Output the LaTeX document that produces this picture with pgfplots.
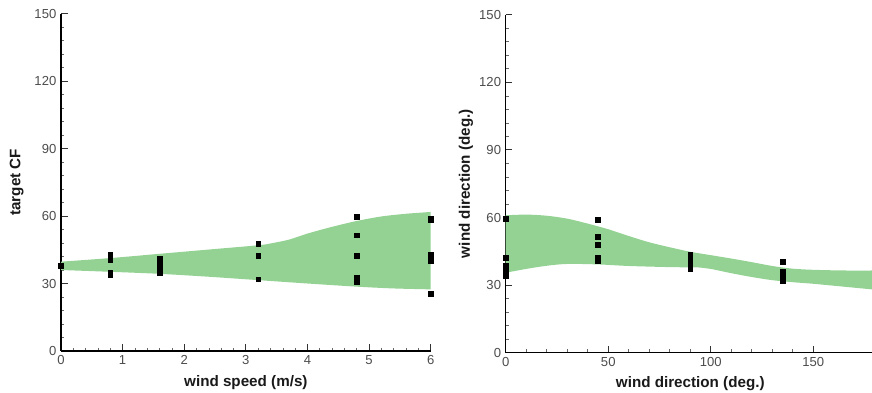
\documentclass[border=0pt]{standalone}
\usepackage{fontspec}
\setmainfont{Liberation Sans}
\usepackage{pgfplots}
\pgfplotsset{compat=1.18}
\usepgfplotslibrary{fillbetween}
\definecolor{bandgreen}{RGB}{148,210,148}
\pgfplotsset{
  common/.style={
    scale only axis,
    axis x line*=bottom, axis y line*=left,
    axis line style={-, black, line width=0.9pt},
    tick align=inside,
    major tick length=5pt, minor tick length=2.6pt,
    every tick/.style={black!80, line width=0.7pt},
    every minor tick/.style={black!60, line width=0.5pt},
    ymin=0, ymax=150, ytick={0,30,60,90,120,150},
    minor y tick num=4, minor x tick num=4,
    /pgf/number format/assume math mode=true,
    tick label style={font=\fontsize{9.8}{10}\selectfont, text=black!70},
    label style={font=\bfseries\fontsize{11.4}{12}\selectfont, text=black!90},
    xlabel style={at={(axis description cs:0.5,-0.104)}, anchor=base},
    clip=false,
  }
}
\begin{document}
\begin{tikzpicture}
\begin{axis}[common, at={(45.75pt,31.5pt)}, anchor=south west,
  width=277.3pt, height=253.1pt,
  xmin=0, xmax=6, xtick={0,...,6},
  ylabel style={at={(axis description cs:-0.120,0.5)}, anchor=center, rotate=0},
  xlabel={wind speed (m/s)}, ylabel={target CF}]
\addplot[name path=up, draw=none, smooth] coordinates {
(0,39.7) (0.8,41.3) (1.6,43.2) (2.4,45.1) (3.2,47) (3.4,47.8) (3.7,49.5) (4.0,52.2) (4.4,55.2) (4.8,57.8) (5.2,59.8) (5.6,61) (6,61.8)};
\addplot[name path=lo, draw=none, smooth] coordinates {
(0,36) (0.8,35.2) (1.6,34.3) (2.4,33) (3.2,31.5) (4,30) (4.8,28.6) (5.4,27.8) (6,27.4)};
\addplot[bandgreen, draw=none] fill between[of=up and lo];
\addplot[only marks, mark=square*, mark size=1.8pt, black] coordinates {
(0,38)
(0.8,43) (0.8,40.4) (0.8,35) (0.8,34)
(1.6,41.2) (1.6,38.8) (1.6,37.6) (1.6,36.1) (1.6,34.6)
(3.2,47.6) (3.2,42.4) (3.2,31.9)
(4.8,59.7) (4.8,51.4) (4.8,42.4) (4.8,32.4) (4.8,30.9)
(6,59) (6,58.5) (6,43) (6,42) (6,41) (6,40) (6,25.6)};
\end{axis}
\begin{axis}[common, at={(379.3pt,30.2pt)}, anchor=south west,
  width=276.8pt, height=253.5pt,
  xmin=0, xmax=180, xtick={0,50,100,150},
  ylabel style={at={(axis description cs:-0.108,0.5)}, anchor=center, rotate=0},
  xlabel={wind direction (deg.)}, ylabel={wind direction (deg.)}]
\addplot[name path=up, draw=none, smooth] coordinates {
(0,61) (10,61.3) (20,60.8) (30,59.5) (40,57.3) (50,54.8) (60,51.8) (70,49) (80,46.8) (90,44.8) (100,43.3) (110,41.8) (120,40.2) (130,38.5) (140,37.3) (150,36.8) (165,36.5) (180,36.5)};
\addplot[name path=lo, draw=none, smooth] coordinates {
(0,35.5) (10,37.2) (20,38.6) (30,39.4) (45,39.2) (60,38.5) (80,38) (95,37.8) (100,37.2) (110,35.3) (120,33.6) (130,32.2) (140,31.3) (150,30.6) (165,29.3) (180,28)};
\addplot[bandgreen, draw=none] fill between[of=up and lo];
\addplot[only marks, mark=square*, mark size=1.8pt, black] coordinates {
(0,59.6) (0,42.2) (0,38.5) (0,37) (0,35.4) (0,34.2)
(45,58.9) (45,51.5) (45,47.8) (45,42.4) (45,41.5) (45,40.8)
(90,43.4) (90,42.4) (90,41.4) (90,40.4) (90,39.4) (90,38.3) (90,37.4)
(135,40.4) (135,36) (135,34.6) (135,31.8)};
\end{axis}
\pgfresetboundingbox
\path[use as bounding box] (0,0) rectangle (654pt,294.75pt);
\end{tikzpicture}
\end{document}
